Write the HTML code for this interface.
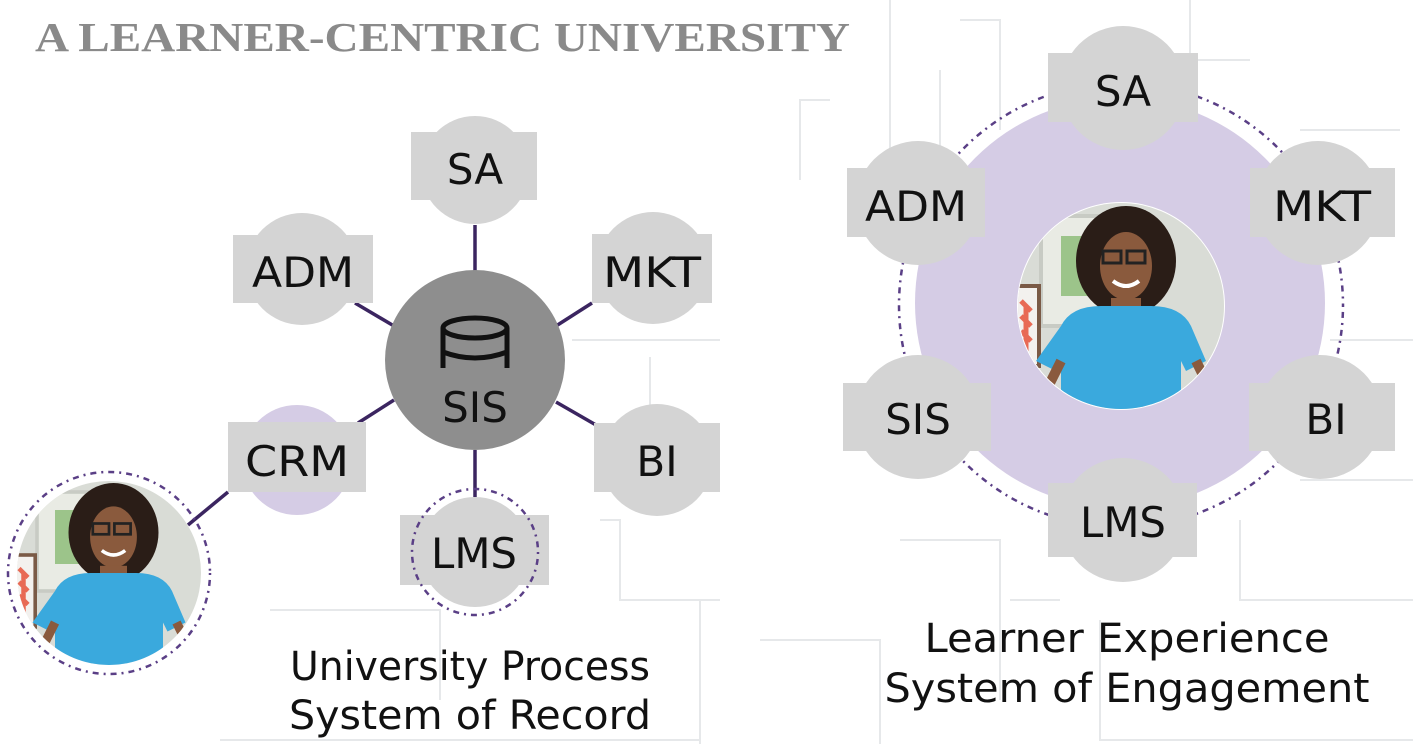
<!DOCTYPE html>
<html><head><meta charset="utf-8"><style>
html,body{margin:0;padding:0;background:#fff;}
svg{display:block;}
.n{font-family:"DejaVu Sans","Liberation Sans",sans-serif;font-size:42px;fill:#111;text-anchor:middle;}
.b{font-family:"DejaVu Sans","Liberation Sans",sans-serif;font-size:40px;fill:#111;text-anchor:middle;}
</style></head><body>
<svg width="1413" height="744" viewBox="0 0 1413 744" xmlns="http://www.w3.org/2000/svg">
<defs>
<clipPath id="cl"><circle cx="109" cy="573" r="92"/></clipPath>
<clipPath id="cr"><circle cx="1121" cy="306" r="103"/></clipPath>
<g id="person">
<rect x="-110" y="-110" width="220" height="220" fill="#d9dcd6"/>
<rect x="-80" y="-90" width="60" height="110" fill="#e9ebe4" stroke="#c8cbc4" stroke-width="4"/>
<rect x="-60" y="-70" width="30" height="60" fill="#9cc48a"/>
<rect x="-110" y="-20" width="28" height="80" fill="#f3f1ee" stroke="#7a5a46" stroke-width="4"/>
<path d="M-100 -5 l10 10 M-100 10 l10 10 M-100 25 l10 10 M-95 0 v50" stroke="#e86a55" stroke-width="5"/>
<ellipse cx="5" cy="-45" rx="50" ry="55" fill="#2a1d17"/>
<ellipse cx="5" cy="-40" rx="26" ry="34" fill="#8a5a3d"/>
<rect x="-18" y="-55" width="18" height="12" fill="none" stroke="#222" stroke-width="3"/>
<rect x="6" y="-55" width="18" height="12" fill="none" stroke="#222" stroke-width="3"/>
<path d="M-8 -25 q13 10 26 0" stroke="#fff" stroke-width="4" fill="none"/>
<rect x="-10" y="-8" width="30" height="20" fill="#8a5a3d"/>
<path d="M-60 20 q10 -20 40 -20 h50 q30 0 40 20 l15 35 l-20 10 l-5 -10 v110 h-120 v-110 l-5 10 l-20 -10z" fill="#3aa9dd"/>
<path d="M-60 55 l-20 40 l35 10 M75 55 l20 40 l-35 10" stroke="#8a5a3d" stroke-width="10" fill="none"/>
</g>
</defs>
<g stroke="#e6e8ea" stroke-width="2" fill="none">
<path d="M572 340 H720 M650 357 V480 H720 M800 180 V100 H830"/>
<path d="M600 520 H620 V600 H720 M270 610 H440 V700 M890 0 V200 M960 20 H1000 V130 M1190 0 V60 H1250 M1300 130 H1400 M1330 340 H1413 M1300 480 H1413 M1240 520 V600 H1413"/>
<path d="M700 600 V744 M760 640 H880 V744 M900 540 H1000 V700 M220 740 H700 M1100 620 V740 H1413 M940 70 V160 M1010 600 H1060"/>
</g>
<text x="35" y="51" font-family="Liberation Serif,serif" font-weight="bold" font-size="41" fill="#8a8a8a" textLength="815" lengthAdjust="spacingAndGlyphs">A LEARNER-CENTRIC UNIVERSITY</text>

<g stroke="#3b2560" stroke-width="3.5">
<line x1="475" y1="225" x2="475" y2="272"/>
<line x1="355" y1="303" x2="394" y2="326"/>
<line x1="592" y1="303" x2="556" y2="326"/>
<line x1="358" y1="423" x2="394" y2="400"/>
<line x1="556" y1="402" x2="596" y2="425"/>
<line x1="475" y1="450" x2="475" y2="497"/>
<line x1="228" y1="492" x2="188" y2="525"/>
</g>
<g fill="#d4d4d4">
<circle cx="475" cy="170" r="54"/><rect x="411" y="132" width="126" height="68"/>
<circle cx="302" cy="269" r="56"/><rect x="233" y="235" width="140" height="68"/>
<circle cx="653" cy="268" r="56"/><rect x="592" y="234" width="120" height="69"/>
<circle cx="657" cy="460" r="56"/><rect x="594" y="423" width="126" height="69"/>
<circle cx="475" cy="552" r="55"/><rect x="400" y="515" width="149" height="70"/>
</g>
<circle cx="297" cy="460" r="55" fill="#d5cce5"/>
<rect x="228" y="422" width="138" height="70" fill="#d4d4d4"/>
<circle cx="475" cy="552" r="63" fill="none" stroke="#5a3f86" stroke-width="2.5" stroke-dasharray="2 5 6 5"/>
<circle cx="475" cy="360" r="90" fill="#8e8e8e"/>
<g fill="none" stroke="#111" stroke-width="5">
<ellipse cx="475" cy="328" rx="32" ry="10"/>
<path d="M443 328 V368 M507 328 V368 M443 352 Q475 364 507 352"/>
</g>
<text class="n" x="475" y="184">SA</text>
<text class="n" x="303" y="287" textLength="102" lengthAdjust="spacingAndGlyphs">ADM</text>
<text class="n" x="652" y="287" textLength="98" lengthAdjust="spacingAndGlyphs">MKT</text>
<text class="n" x="297" y="476" textLength="104" lengthAdjust="spacingAndGlyphs">CRM</text>
<text class="n" x="657" y="476">BI</text>
<text class="n" x="474" y="568" textLength="86" lengthAdjust="spacingAndGlyphs">LMS</text>
<text class="n" x="475" y="422">SIS</text>

<circle cx="109" cy="573" r="101" fill="none" stroke="#5a3f86" stroke-width="2.5" stroke-dasharray="2 5 6 5"/>
<g clip-path="url(#cl)"><use href="#person" transform="translate(109,573) scale(0.9)"/></g>

<text class="b" x="470" y="680" textLength="360" lengthAdjust="spacingAndGlyphs">University Process</text>
<text class="b" x="470" y="729" textLength="362" lengthAdjust="spacingAndGlyphs">System of Record</text>

<circle cx="1121" cy="305" r="222" fill="none" stroke="#5a3f86" stroke-width="2.5" stroke-dasharray="2 5 6 5"/>
<circle cx="1120" cy="303" r="205" fill="#d5cce5"/>
<g fill="#d4d4d4">
<circle cx="1123" cy="88" r="62"/><rect x="1048" y="53" width="150" height="69"/>
<circle cx="918" cy="203" r="62"/><rect x="847" y="168" width="138" height="69"/>
<circle cx="1318" cy="203" r="62"/><rect x="1250" y="168" width="145" height="69"/>
<circle cx="918" cy="417" r="62"/><rect x="843" y="383" width="148" height="68"/>
<circle cx="1320" cy="417" r="62"/><rect x="1249" y="383" width="146" height="68"/>
<circle cx="1123" cy="520" r="62"/><rect x="1048" y="483" width="149" height="74"/>
</g>
<text class="n" x="1123" y="106">SA</text>
<text class="n" x="916" y="221" textLength="102" lengthAdjust="spacingAndGlyphs">ADM</text>
<text class="n" x="1322" y="221" textLength="98" lengthAdjust="spacingAndGlyphs">MKT</text>
<text class="n" x="918" y="434">SIS</text>
<text class="n" x="1326" y="434">BI</text>
<text class="n" x="1123" y="537" textLength="86" lengthAdjust="spacingAndGlyphs">LMS</text>
<circle cx="1121" cy="306" r="104" fill="#fff"/>
<g clip-path="url(#cr)"><use href="#person" transform="translate(1121,306)"/></g>

<text class="b" x="1127" y="652" textLength="405" lengthAdjust="spacingAndGlyphs">Learner Experience</text>
<text class="b" x="1127" y="702" textLength="485" lengthAdjust="spacingAndGlyphs">System of Engagement</text>
</svg>
</body></html>
